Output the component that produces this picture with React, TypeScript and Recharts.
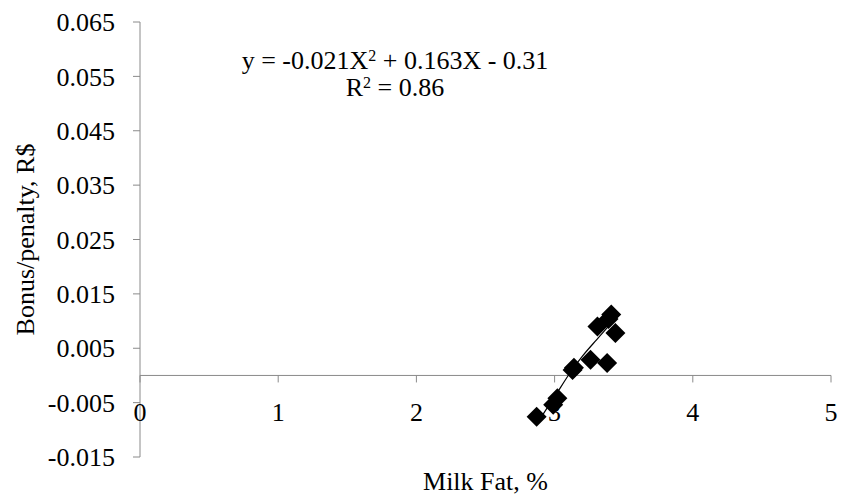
import {
  ComposedChart,
  Scatter,
  Line,
  XAxis,
  YAxis,
  ReferenceLine,
} from 'recharts';

const fatPct = [2.87, 2.99, 3.02, 3.13, 3.14, 3.26, 3.31, 3.38, 3.39, 3.41, 3.44];
const bonus = [-0.0076, -0.0054, -0.0042, 0.001, 0.0014, 0.0029, 0.009, 0.0023, 0.0104, 0.0112, 0.0078];

const trendX = [2.88, 2.93, 3.0, 3.126, 3.2, 3.305, 3.42];
const trendY = [-0.0086, -0.0066, -0.0039, 0.001, 0.0035, 0.0066, 0.0099];

const xTicks = [0, 1, 2, 3, 4, 5];
const yTicks = [-0.015, -0.005, 0.005, 0.015, 0.025, 0.035, 0.045, 0.055, 0.065];

const W = 842;
const H = 496;
const margin = { top: 22, right: 11, bottom: 0, left: 0 };
const xAxisH = 39;
const yMin = -0.015;
const yMax = 0.065;
const plotH = H - margin.top - margin.bottom - xAxisH;
const zeroY = margin.top + (plotH * yMax) / (yMax - yMin);

const axisColor = '#8a8a8a';
const font = '"Liberation Serif", "Times New Roman", serif';
const fs = 26;

const points = fatPct.map((x, i) => ({ x, y: bonus[i] }));
const trend = trendX.map((x, i) => ({ x, y: trendY[i] }));

function Diamond(props: any) {
  const { cx, cy } = props;
  const r = 10;
  return (
    <polygon
      points={`${cx},${cy - r} ${cx + r},${cy} ${cx},${cy + r} ${cx - r},${cy}`}
      fill="#000"
    />
  );
}

function XTick(props: any) {
  const { x, payload } = props;
  return (
    <g>
      <line x1={x} x2={x} y1={zeroY} y2={zeroY + 7} stroke={axisColor} />
      <text
        x={x}
        y={zeroY + 37}
        textAnchor="middle"
        dominantBaseline="central"
        fontFamily={font}
        fontSize={fs}
        fill="#000"
      >
        {payload.value}
      </text>
    </g>
  );
}

export default function App() {
  return (
    <div style={{ position: 'absolute', left: 0, top: 0, width: W, height: H, background: '#fff' }}>
      <ComposedChart width={W} height={H} margin={margin}>
        <XAxis
          type="number"
          dataKey="x"
          domain={[0, 5]}
          ticks={xTicks}
          height={xAxisH}
          axisLine={false}
          tickLine={false}
          tick={<XTick />}
          label={{
            value: 'Milk Fat, %',
            position: 'insideBottom',
            offset: 6,
            style: { fontFamily: font, fontSize: fs, fill: '#000' },
          }}
        />
        <YAxis
          type="number"
          dataKey="y"
          domain={[yMin, yMax]}
          ticks={yTicks}
          width={140}
          stroke={axisColor}
          tickSize={7}
          tickMargin={18}
          tickFormatter={(v: number) => v.toFixed(3)}
          tick={{ fontFamily: font, fontSize: fs, fill: '#000' }}
          label={{
            value: 'Bonus/penalty, R$',
            angle: -90,
            position: 'insideLeft',
            offset: 25,
            style: { fontFamily: font, fontSize: fs, fill: '#000', textAnchor: 'middle' },
          }}
        />
        <ReferenceLine y={0} stroke={axisColor} />
        <Line
          data={trend}
          dataKey="y"
          type="monotone"
          stroke="#000"
          strokeWidth={1.2}
          dot={false}
          isAnimationActive={false}
        />
        <Scatter data={points} dataKey="y" shape={<Diamond />} isAnimationActive={false} />
      </ComposedChart>
      <div
        style={{
          position: 'absolute',
          left: 195,
          top: 47,
          width: 400,
          textAlign: 'center',
          fontFamily: font,
          fontSize: fs,
          lineHeight: '27px',
          color: '#000',
        }}
      >
        <div>
          y = -0.021X<sup style={{ fontSize: 16, verticalAlign: 'top', lineHeight: '18px' }}>2</sup> + 0.163X - 0.31
        </div>
        <div>
          R<sup style={{ fontSize: 16, verticalAlign: 'top', lineHeight: '18px' }}>2</sup> = 0.86
        </div>
      </div>
    </div>
  );
}
